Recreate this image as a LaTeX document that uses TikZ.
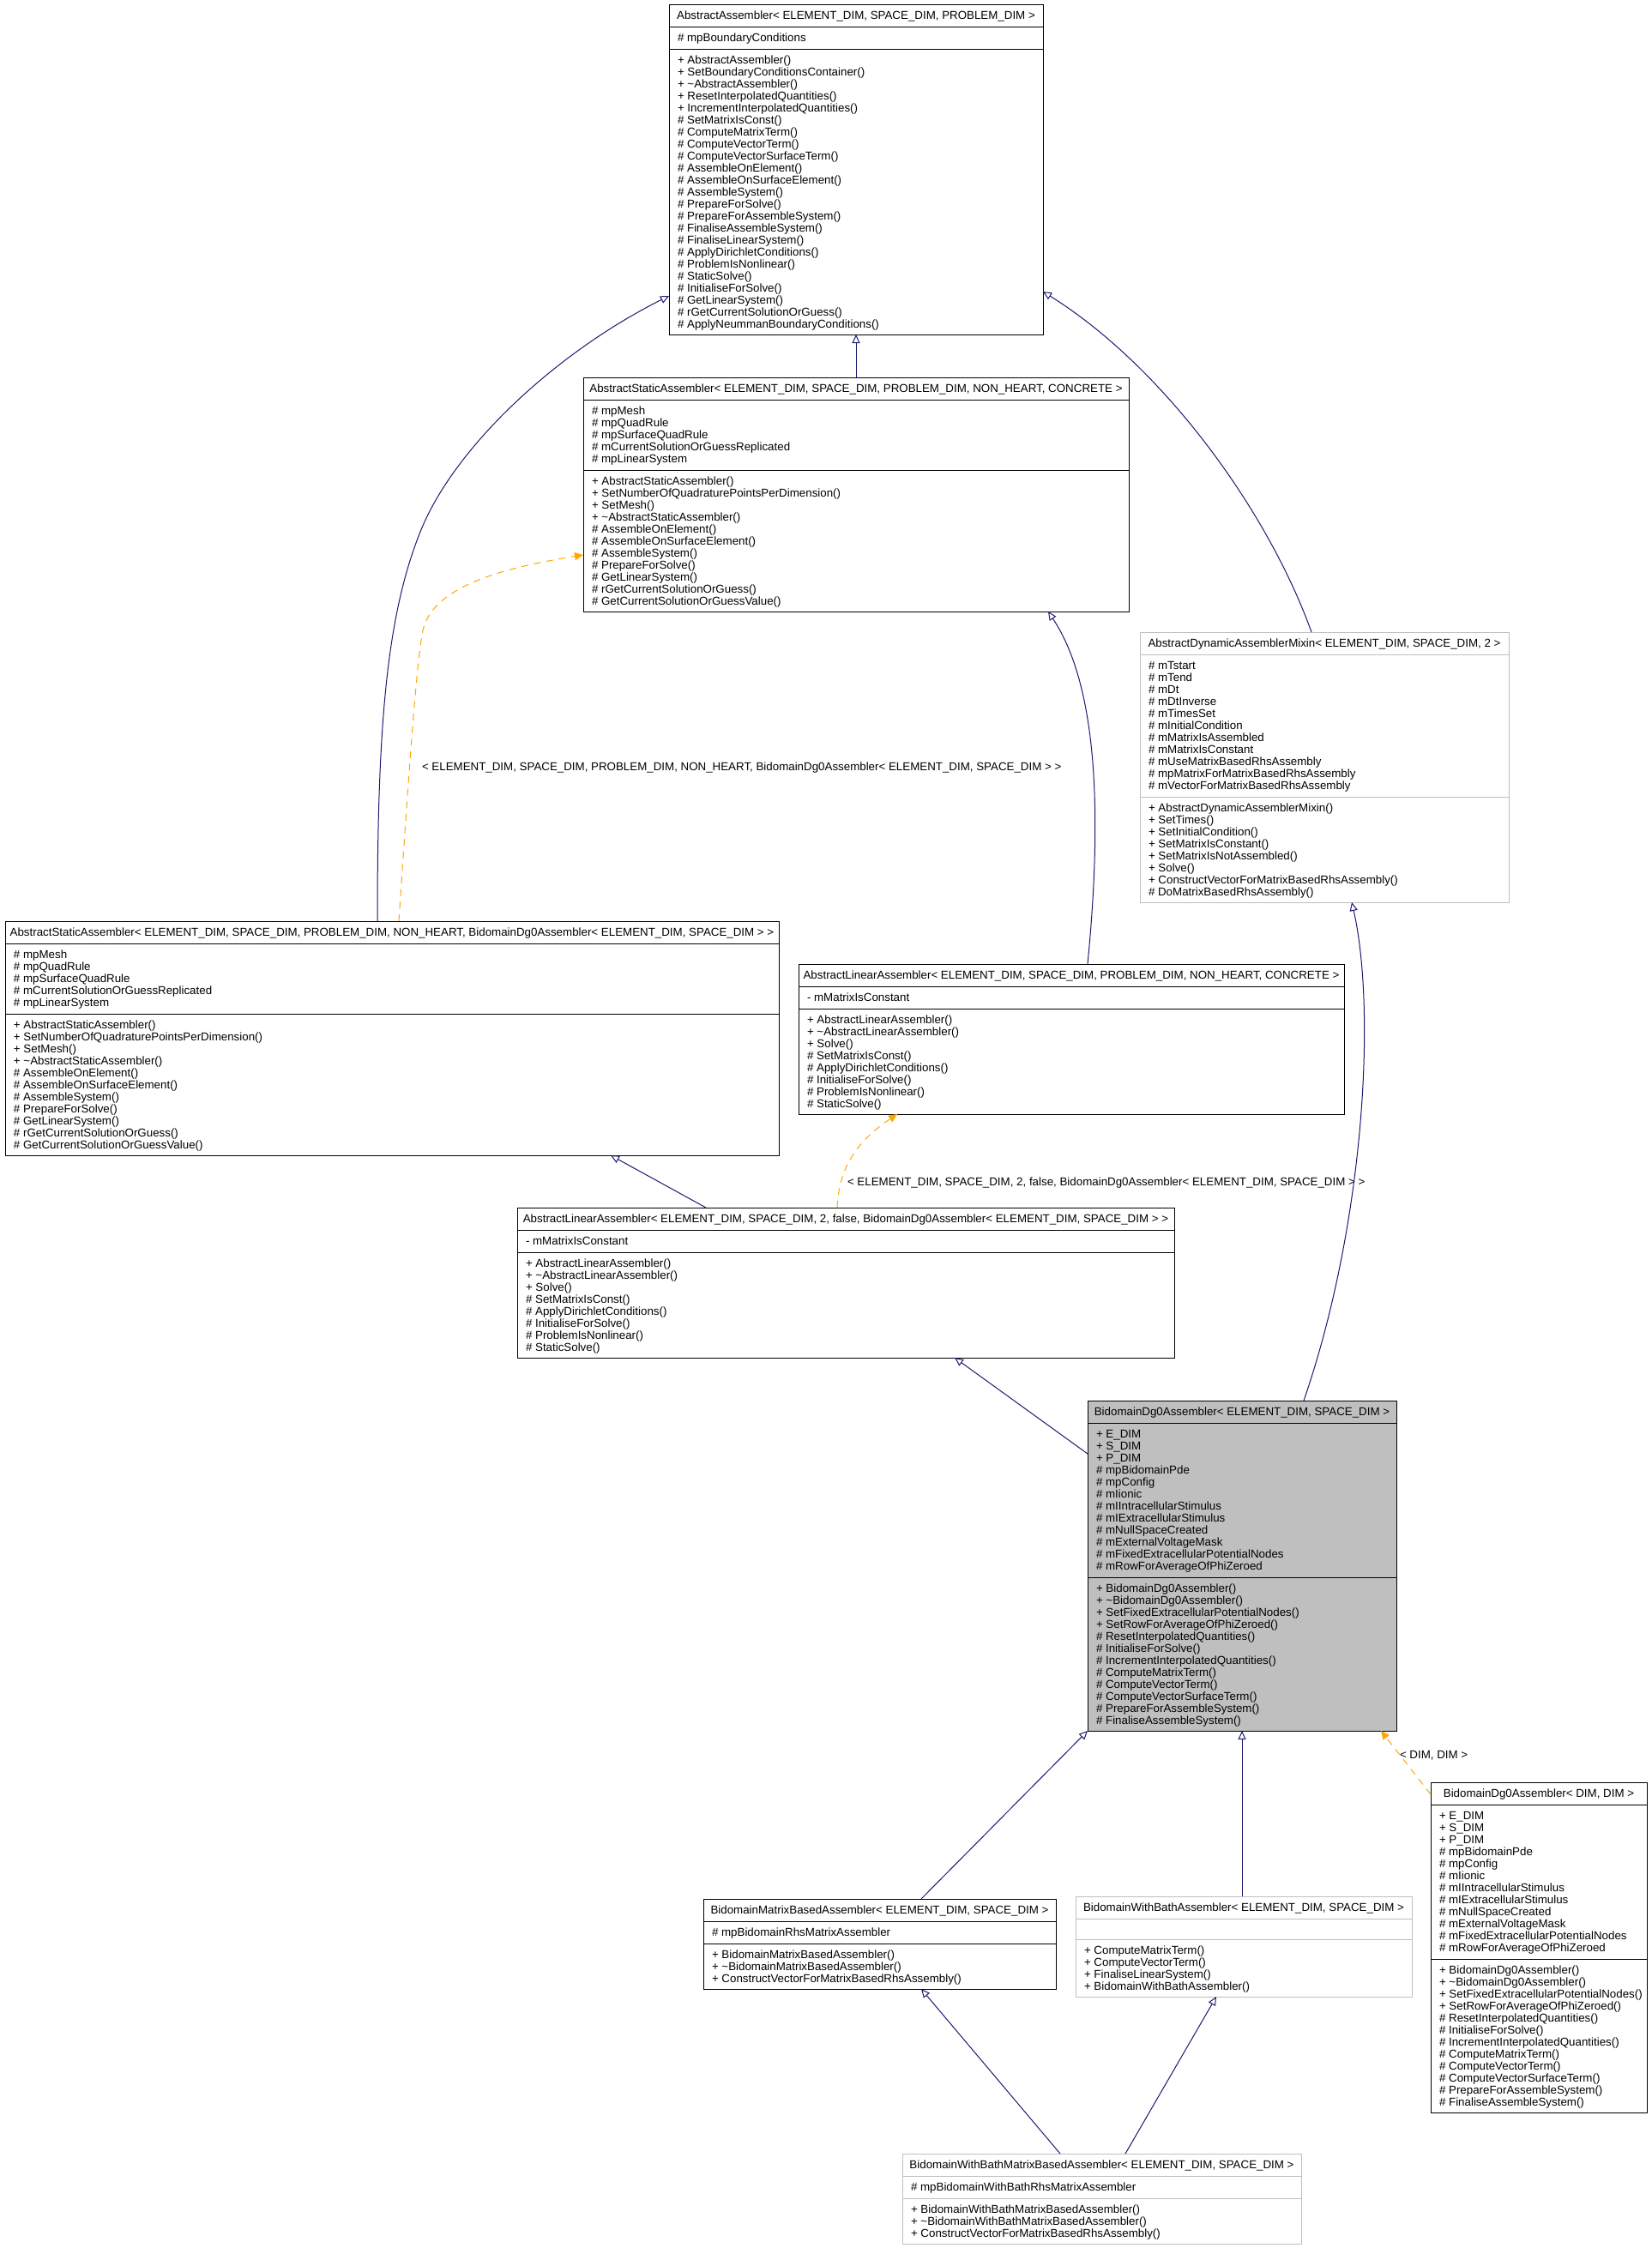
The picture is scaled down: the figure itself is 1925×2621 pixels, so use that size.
\documentclass[tikz,border=0pt]{standalone}
\usepackage{fontspec}
\setmainfont{Liberation Sans}
\usetikzlibrary{arrows.meta,calc,fit}
\definecolor{edgeblue}{HTML}{191970}
\definecolor{tmplorange}{HTML}{FFA500}
\definecolor{lightgr}{HTML}{BFBFBF}
\tikzset{
  txt/.style={inner sep=0pt, outer sep=0pt, font=\fontsize{10pt}{10.5pt}\selectfont, anchor=base west},
  ttl/.style={txt, anchor=base},
  cbox/.style={draw=black, line width=0.75pt, fill=white, inner sep=0pt, outer sep=0pt},
  gbox/.style={cbox, draw=lightgr},
  hbox/.style={cbox, fill=lightgr},
  sepk/.style={draw=black, line width=0.75pt},
  sepg/.style={draw=lightgr, line width=0.75pt},
  inh/.style={draw=edgeblue, line width=0.75pt, -{Triangle[open, length=7.5pt, width=6.75pt]}},
  tpl/.style={draw=tmplorange, line width=0.75pt, dash pattern=on 6pt off 5pt, -{Triangle[length=7.5pt, width=6.75pt, fill=tmplorange, sep=0pt]}},
}
\newcommand\umllines[4]{%
  \foreach \itm [count=\k] in {#4} {
    \node[txt] (#1-\k) at (#2, {#3+14*(\k-1)}) {\itm};
  }%
}
\begin{document}
\begin{tikzpicture}[x=0.75pt, y=-0.75pt]
\useasboundingbox (0,0) rectangle (1925,2621);
\fill[white] (0,0) rectangle (1925,2621);

% ---------- A
\node[cbox, fit={(780,5) (1216,390)}] (A) {};
\draw[sepk] (780,31) -- (1216,31) (780,57) -- (1216,57);
\node[ttl] (A-t) at (998,22.5) {AbstractAssembler< ELEMENT\_DIM, SPACE\_DIM, PROBLEM\_DIM >};
\umllines{A-a}{790}{48.5}{\# mpBoundaryConditions}
\umllines{A-m}{790}{74}{+ AbstractAssembler(), + SetBoundaryConditionsContainer(), + \textasciitilde AbstractAssembler(), + ResetInterpolatedQuantities(), + IncrementInterpolatedQuantities(), \# SetMatrixIsConst(), \# ComputeMatrixTerm(), \# ComputeVectorTerm(), \# ComputeVectorSurfaceTerm(), \# AssembleOnElement(), \# AssembleOnSurfaceElement(), \# AssembleSystem(), \# PrepareForSolve(), \# PrepareForAssembleSystem(), \# FinaliseAssembleSystem(), \# FinaliseLinearSystem(), \# ApplyDirichletConditions(), \# ProblemIsNonlinear(), \# StaticSolve(), \# InitialiseForSolve(), \# GetLinearSystem(), \# rGetCurrentSolutionOrGuess(), \# ApplyNeummanBoundaryConditions()}

% ---------- B
\node[cbox, fit={(680,440) (1316,713)}] (B) {};
\draw[sepk] (680,466) -- (1316,466) (680,548) -- (1316,548);
\node[ttl] (B-t) at (998,457.5) {AbstractStaticAssembler< ELEMENT\_DIM, SPACE\_DIM, PROBLEM\_DIM, NON\_HEART, CONCRETE >};
\umllines{B-a}{690}{483.5}{\# mpMesh, \# mpQuadRule, \# mpSurfaceQuadRule, \# mCurrentSolutionOrGuessReplicated, \# mpLinearSystem}
\umllines{B-m}{690}{565}{+ AbstractStaticAssembler(), + SetNumberOfQuadraturePointsPerDimension(), + SetMesh(), + \textasciitilde AbstractStaticAssembler(), \# AssembleOnElement(), \# AssembleOnSurfaceElement(), \# AssembleSystem(), \# PrepareForSolve(), \# GetLinearSystem(), \# rGetCurrentSolutionOrGuess(), \# GetCurrentSolutionOrGuessValue()}

% ---------- C
\node[gbox, fit={(1329,737) (1759,1052)}] (C) {};
\draw[sepg] (1329,763) -- (1759,763) (1329,929) -- (1759,929);
\node[ttl] (C-t) at (1544,754.5) {AbstractDynamicAssemblerMixin< ELEMENT\_DIM, SPACE\_DIM, 2 >};
\umllines{C-a}{1339}{780.5}{\# mTstart, \# mTend, \# mDt, \# mDtInverse, \# mTimesSet, \# mInitialCondition, \# mMatrixIsAssembled, \# mMatrixIsConstant, \# mUseMatrixBasedRhsAssembly, \# mpMatrixForMatrixBasedRhsAssembly, \# mVectorForMatrixBasedRhsAssembly}
\umllines{C-m}{1339}{946}{+ AbstractDynamicAssemblerMixin(), + SetTimes(), + SetInitialCondition(), + SetMatrixIsConstant(), + SetMatrixIsNotAssembled(), + Solve(), + ConstructVectorForMatrixBasedRhsAssembly(), \# DoMatrixBasedRhsAssembly()}

% ---------- D
\node[cbox, fit={(6,1074) (908,1347)}] (D) {};
\draw[sepk] (6,1100) -- (908,1100) (6,1182) -- (908,1182);
\node[ttl] (D-t) at (457,1091.5) {AbstractStaticAssembler< ELEMENT\_DIM, SPACE\_DIM, PROBLEM\_DIM, NON\_HEART, BidomainDg0Assembler< ELEMENT\_DIM, SPACE\_DIM > >};
\umllines{D-a}{16}{1117.5}{\# mpMesh, \# mpQuadRule, \# mpSurfaceQuadRule, \# mCurrentSolutionOrGuessReplicated, \# mpLinearSystem}
\umllines{D-m}{16}{1199}{+ AbstractStaticAssembler(), + SetNumberOfQuadraturePointsPerDimension(), + SetMesh(), + \textasciitilde AbstractStaticAssembler(), \# AssembleOnElement(), \# AssembleOnSurfaceElement(), \# AssembleSystem(), \# PrepareForSolve(), \# GetLinearSystem(), \# rGetCurrentSolutionOrGuess(), \# GetCurrentSolutionOrGuessValue()}

% ---------- E
\node[cbox, fit={(931,1124) (1567,1299)}] (E) {};
\draw[sepk] (931,1150) -- (1567,1150) (931,1176) -- (1567,1176);
\node[ttl] (E-t) at (1249,1141.5) {AbstractLinearAssembler< ELEMENT\_DIM, SPACE\_DIM, PROBLEM\_DIM, NON\_HEART, CONCRETE >};
\umllines{E-a}{941}{1167.5}{- mMatrixIsConstant}
\umllines{E-m}{941}{1193}{+ AbstractLinearAssembler(), + \textasciitilde AbstractLinearAssembler(), + Solve(), \# SetMatrixIsConst(), \# ApplyDirichletConditions(), \# InitialiseForSolve(), \# ProblemIsNonlinear(), \# StaticSolve()}

% ---------- F
\node[cbox, fit={(603,1408) (1369,1583)}] (F) {};
\draw[sepk] (603,1434) -- (1369,1434) (603,1460) -- (1369,1460);
\node[ttl] (F-t) at (986,1425.5) {AbstractLinearAssembler< ELEMENT\_DIM, SPACE\_DIM, 2, false, BidomainDg0Assembler< ELEMENT\_DIM, SPACE\_DIM > >};
\umllines{F-a}{613}{1451.5}{- mMatrixIsConstant}
\umllines{F-m}{613}{1477}{+ AbstractLinearAssembler(), + \textasciitilde AbstractLinearAssembler(), + Solve(), \# SetMatrixIsConst(), \# ApplyDirichletConditions(), \# InitialiseForSolve(), \# ProblemIsNonlinear(), \# StaticSolve()}

% ---------- G
\node[hbox, fit={(1268,1633) (1628,2018)}] (G) {};
\draw[sepk] (1268,1659) -- (1628,1659) (1268,1839) -- (1628,1839);
\node[ttl] (G-t) at (1448,1650.5) {BidomainDg0Assembler< ELEMENT\_DIM, SPACE\_DIM >};
\umllines{G-a}{1278}{1676.5}{+ E\_DIM, + S\_DIM, + P\_DIM, \# mpBidomainPde, \# mpConfig, \# mIionic, \# mIIntracellularStimulus, \# mIExtracellularStimulus, \# mNullSpaceCreated, \# mExternalVoltageMask, \# mFixedExtracellularPotentialNodes, \# mRowForAverageOfPhiZeroed}
\umllines{G-m}{1278}{1856}{+ BidomainDg0Assembler(), + \textasciitilde BidomainDg0Assembler(), + SetFixedExtracellularPotentialNodes(), + SetRowForAverageOfPhiZeroed(), \# ResetInterpolatedQuantities(), \# InitialiseForSolve(), \# IncrementInterpolatedQuantities(), \# ComputeMatrixTerm(), \# ComputeVectorTerm(), \# ComputeVectorSurfaceTerm(), \# PrepareForAssembleSystem(), \# FinaliseAssembleSystem()}

% ---------- H
\node[cbox, fit={(1668,2078) (1920,2463)}] (H) {};
\draw[sepk] (1668,2104) -- (1920,2104) (1668,2284) -- (1920,2284);
\node[ttl] (H-t) at (1794,2095.5) {BidomainDg0Assembler< DIM, DIM >};
\umllines{H-a}{1678}{2121.5}{+ E\_DIM, + S\_DIM, + P\_DIM, \# mpBidomainPde, \# mpConfig, \# mIionic, \# mIIntracellularStimulus, \# mIExtracellularStimulus, \# mNullSpaceCreated, \# mExternalVoltageMask, \# mFixedExtracellularPotentialNodes, \# mRowForAverageOfPhiZeroed}
\umllines{H-m}{1678}{2301}{+ BidomainDg0Assembler(), + \textasciitilde BidomainDg0Assembler(), + SetFixedExtracellularPotentialNodes(), + SetRowForAverageOfPhiZeroed(), \# ResetInterpolatedQuantities(), \# InitialiseForSolve(), \# IncrementInterpolatedQuantities(), \# ComputeMatrixTerm(), \# ComputeVectorTerm(), \# ComputeVectorSurfaceTerm(), \# PrepareForAssembleSystem(), \# FinaliseAssembleSystem()}

% ---------- I
\node[cbox, fit={(820,2214) (1231,2319)}] (I) {};
\draw[sepk] (820,2240) -- (1231,2240) (820,2266) -- (1231,2266);
\node[ttl] (I-t) at (1025.5,2231.5) {BidomainMatrixBasedAssembler< ELEMENT\_DIM, SPACE\_DIM >};
\umllines{I-a}{830}{2257.5}{\# mpBidomainRhsMatrixAssembler}
\umllines{I-m}{830}{2283}{+ BidomainMatrixBasedAssembler(), + \textasciitilde BidomainMatrixBasedAssembler(), + ConstructVectorForMatrixBasedRhsAssembly()}

% ---------- K
\node[gbox, fit={(1254,2211) (1646,2328)}] (K) {};
\draw[sepg] (1254,2237) -- (1646,2237) (1254,2261) -- (1646,2261);
\node[ttl] (K-t) at (1450,2228.5) {BidomainWithBathAssembler< ELEMENT\_DIM, SPACE\_DIM >};
\umllines{K-m}{1264}{2278}{+ ComputeMatrixTerm(), + ComputeVectorTerm(), + FinaliseLinearSystem(), + BidomainWithBathAssembler()}

% ---------- J
\node[gbox, fit={(1052,2511) (1517,2616)}] (J) {};
\draw[sepg] (1052,2537) -- (1517,2537) (1052,2563) -- (1517,2563);
\node[ttl] (J-t) at (1284.5,2528.5) {BidomainWithBathMatrixBasedAssembler< ELEMENT\_DIM, SPACE\_DIM >};
\umllines{J-a}{1062}{2554.5}{\# mpBidomainWithBathRhsMatrixAssembler}
\umllines{J-m}{1062}{2580}{+ BidomainWithBathMatrixBasedAssembler(), + \textasciitilde BidomainWithBathMatrixBasedAssembler(), + ConstructVectorForMatrixBasedRhsAssembly()}

% ---------- labels
\node[txt] (lbl1) at (492,898.5) {< ELEMENT\_DIM, SPACE\_DIM, PROBLEM\_DIM, NON\_HEART, BidomainDg0Assembler< ELEMENT\_DIM, SPACE\_DIM > >};
\node[txt] (lbl2) at (988,1382.5) {< ELEMENT\_DIM, SPACE\_DIM, 2, false, BidomainDg0Assembler< ELEMENT\_DIM, SPACE\_DIM > >};
\node[txt] (lbl3) at (1632,2050.5) {< DIM, DIM >};

% ---------- edges
\draw[inh] (B.north) -- (A.south);
\draw[inh] ($(D.north west)+(434,0)$) .. controls (440,850) and (450,720) .. (490,620)
   .. controls (530,520) and (650,410) .. ($(A.north west)+(0,340)$);
\draw[inh] ($(C.north west)+(200,0)$) .. controls (1480,600) and (1360,430) .. ($(A.north east)+(0,335)$);
\draw[tpl] ($(D.north west)+(459,0)$) .. controls (478,880) and (486,770) .. (493,735)
   .. controls (505,680) and (600,660) .. ($(B.north west)+(0,207)$);
\draw[inh] ($(E.north west)+(337,0)$) .. controls (1285,950) and (1280,800) .. ($(B.south west)+(542,0)$);
\draw[inh] ($(F.north west)+(220,0)$) -- ($(D.south west)+(706,0)$);
\draw[tpl] ($(F.north west)+(373,0)$) .. controls (978,1360) and (1000,1330) .. ($(E.south west)+(115,0)$);
\draw[inh] ($(G.north west)+(0,62)$) -- ($(F.south west)+(510,0)$);
\draw[inh] ($(G.north west)+(252,0)$) .. controls (1590,1430) and (1605,1180) .. ($(C.south west)+(247,0)$);
\draw[inh] ($(I.north west)+(254,0)$) -- (G.south west);
\draw[inh] ($(K.north west)+(194,0)$) -- ($(G.south west)+(180,0)$);
\draw[tpl] ($(H.north west)+(0,14)$) -- ($(G.south west)+(342,0)$);
\draw[inh] ($(J.north west)+(184,0)$) -- ($(I.south west)+(254,0)$);
\draw[inh] ($(J.north west)+(260,0)$) -- ($(K.south west)+(164,0)$);
\end{tikzpicture}
\end{document}
